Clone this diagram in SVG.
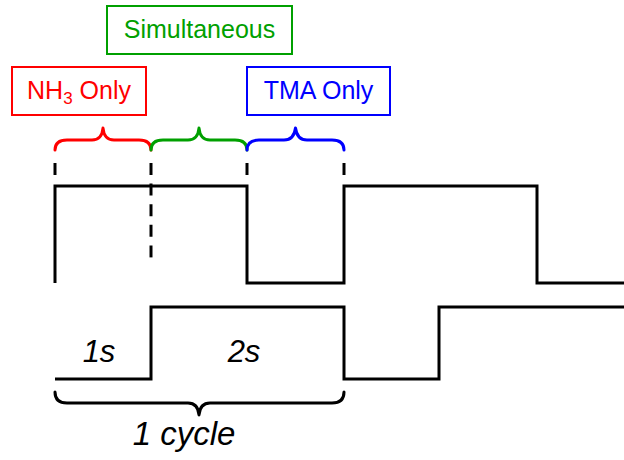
<svg xmlns="http://www.w3.org/2000/svg" width="624" height="460" viewBox="0 0 624 460">
<style>
.box{fill:#fff;stroke-width:2}
.lbl{font-family:"Liberation Sans",Arial,sans-serif;font-size:25px;text-anchor:middle}
.wave{fill:none;stroke:#000;stroke-width:3;stroke-linejoin:miter}
.dash{stroke:#000;stroke-width:3;stroke-dasharray:12 8.6}
.brace{fill:none;stroke-width:3;stroke-linecap:round;stroke-linejoin:round}
.it{font-family:"Liberation Sans",Arial,sans-serif;font-style:italic;text-anchor:middle;fill:#000}
</style>
<rect width="624" height="460" fill="#fff"/>
<g id="simultaneous">
<rect class="box" x="107" y="6" width="185" height="48" stroke="#00A000"/>
<text class="lbl" x="199.5" y="38" fill="#00A000">Simultaneous</text>
</g>
<g id="nh3-only">
<rect class="box" x="12" y="67" width="134" height="48" stroke="#FF0000"/>
<text class="lbl" x="79" y="99" fill="#FF0000">NH<tspan font-size="17" dy="5">3</tspan><tspan dy="-5"> Only</tspan></text>
</g>
<g id="tma-only">
<rect class="box" x="247" y="67" width="143" height="48" stroke="#0000FF"/>
<text class="lbl" x="318.5" y="99" fill="#0000FF">TMA Only</text>
</g>
<g id="braces">
<path class="brace" stroke="#FF0000" d="M55,150 Q55,140 67,140 H92 Q102,140 103,128 Q104,140 114,140 H139 Q151,140 151,150"/>
<path class="brace" stroke="#00A000" d="M151,150 Q151,140 163,140 H188 Q198,140 199,128 Q200,140 210,140 H235 Q247,140 247,150"/>
<path class="brace" stroke="#0000FF" d="M247,150 Q247,140 259,140 H284 Q294,140 295.5,128 Q297,140 307,140 H332 Q344,140 344,150"/>
</g>
<g id="connectors">
<line class="dash" x1="55" y1="163" x2="55" y2="176"/>
<line class="dash" x1="151" y1="163" x2="151" y2="258"/>
<line class="dash" x1="247" y1="163" x2="247" y2="176"/>
<line class="dash" x1="344" y1="163" x2="344" y2="176"/>
<path class="wave" d="M55,283 V186 H247 V283 H344 V186 H537 V283 H624"/>
<path class="wave" d="M55,379 H151 V307 H344 V379 H439 V307 H624"/>
<path class="brace" stroke="#000" d="M55,392 Q55,403 67,403 H188 Q198,403 199,415 Q200,403 210,403 H332 Q344,403 344,392"/>
</g>
<g id="labels">
<text class="it" x="99" y="362" font-size="31">1s</text>
<text class="it" x="244" y="362" font-size="31">2s</text>
<text class="it" x="184" y="445" font-size="33">1 cycle</text>
</g>
</svg>
